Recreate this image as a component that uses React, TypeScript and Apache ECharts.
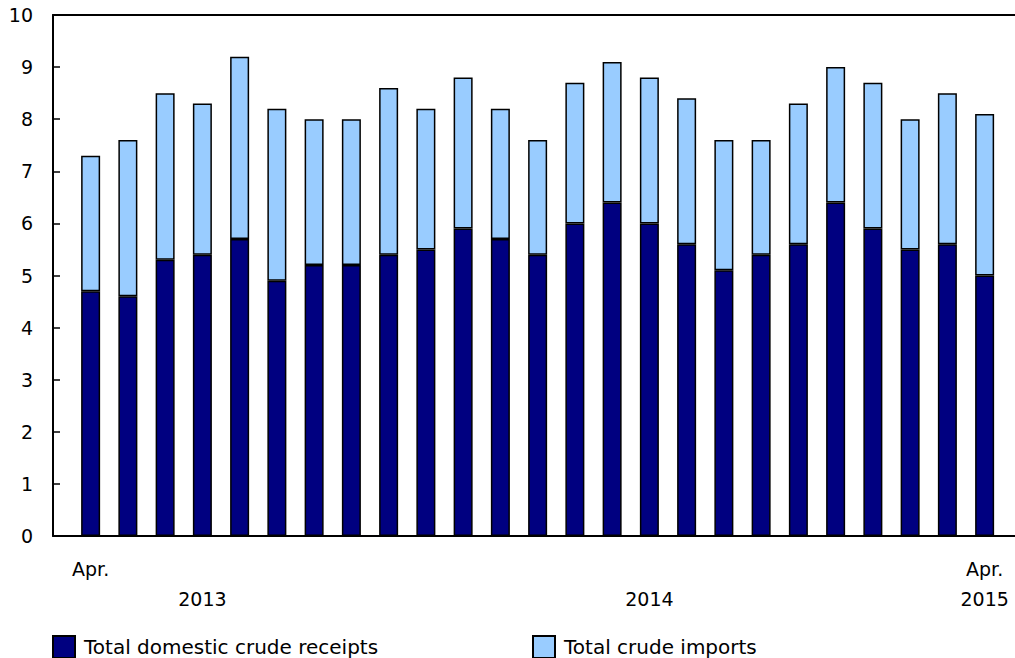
import React, { useEffect, useRef } from "react";
import * as echarts from "echarts";

const categories = [
  "Apr. 2013", "May 2013", "Jun. 2013", "Jul. 2013", "Aug. 2013", "Sep. 2013",
  "Oct. 2013", "Nov. 2013", "Dec. 2013", "Jan. 2014", "Feb. 2014", "Mar. 2014",
  "Apr. 2014", "May 2014", "Jun. 2014", "Jul. 2014", "Aug. 2014", "Sep. 2014",
  "Oct. 2014", "Nov. 2014", "Dec. 2014", "Jan. 2015", "Feb. 2015", "Mar. 2015",
  "Apr. 2015",
];

const domesticReceipts = [
  4.7, 4.6, 5.3, 5.4, 5.7, 4.9, 5.2, 5.2, 5.4, 5.5, 5.9, 5.7,
  5.4, 6.0, 6.4, 6.0, 5.6, 5.1, 5.4, 5.6, 6.4, 5.9, 5.5, 5.6, 5.0,
];

const crudeImports = [
  2.6, 3.0, 3.2, 2.9, 3.5, 3.3, 2.8, 2.8, 3.2, 2.7, 2.9, 2.5,
  2.2, 2.7, 2.7, 2.8, 2.8, 2.5, 2.2, 2.7, 2.6, 2.8, 2.5, 2.9, 3.1,
];

const monthTickLabels = [
  "Apr.", "", "", "", "", "", "", "", "", "", "", "",
  "", "", "", "", "", "", "", "", "", "", "", "", "Apr.",
];

const yearTickLabels = [
  "", "", "", "2013", "", "", "", "", "", "", "", "",
  "", "", "", "2014", "", "", "", "", "", "", "", "", "2015",
];

const seriesNames = ["Total domestic crude receipts", "Total crude imports"];

const FONT = "DejaVu Sans";
const FS = 19;

export default function App() {
  const ref = useRef<HTMLDivElement>(null);

  useEffect(() => {
    if (!ref.current) return;
    const chart = echarts.init(ref.current, null, { renderer: "svg" });
    const top = 15;
    const bottom = 122;
    const legendText = {
      fontFamily: FONT,
      fontSize: 20,
      color: "#000",
      padding: [0, 0, 0, 4],
    };
    chart.setOption({
      animation: false,
      backgroundColor: "#ffffff",
      textStyle: { fontFamily: FONT, color: "#000" },
      grid: [
        { left: 72, right: 11.75, top, bottom, containLabel: false },
        { left: 53, right: -2, top, bottom, containLabel: false },
      ],
      legend: [
        {
          data: [seriesNames[0]],
          left: 52,
          top: 635,
          padding: 0,
          itemWidth: 22,
          itemHeight: 22,
          icon: "rect",
          textStyle: legendText,
        },
        {
          data: [seriesNames[1]],
          left: 532,
          top: 635,
          padding: 0,
          itemWidth: 22,
          itemHeight: 22,
          icon: "rect",
          textStyle: legendText,
        },
      ],
      xAxis: [
        {
          type: "category",
          gridIndex: 0,
          data: categories,
          axisLine: { show: false },
          axisTick: { show: false },
          axisLabel: {
            interval: 0,
            margin: 18,
            fontFamily: FONT,
            fontSize: FS,
            color: "#000",
            lineHeight: 30,
            verticalAlign: "top",
            formatter: (_v: string, i: number) => {
              const m = monthTickLabels[i];
              const y = yearTickLabels[i];
              if (!m && !y) return "";
              return (m || "") + "\n" + (y || "");
            },
          },
        },
        {
          type: "value",
          gridIndex: 1,
          min: 0,
          max: 1,
          position: "bottom",
          axisLine: { show: true, onZero: false, lineStyle: { color: "#000", width: 2 } },
          axisTick: { show: false },
          axisLabel: { show: false },
          splitLine: { show: false },
        },
        {
          type: "value",
          gridIndex: 1,
          min: 0,
          max: 1,
          position: "top",
          axisLine: { show: true, onZero: false, lineStyle: { color: "#000", width: 2 } },
          axisTick: { show: false },
          axisLabel: { show: false },
          splitLine: { show: false },
        },
      ],
      yAxis: [
        {
          type: "value",
          gridIndex: 0,
          min: 0,
          max: 10,
          interval: 1,
          show: false,
        },
        {
          type: "value",
          gridIndex: 1,
          min: 0,
          max: 10,
          interval: 1,
          axisLine: { show: true, lineStyle: { color: "#000", width: 2 } },
          axisTick: { show: true, inside: true, length: 7, lineStyle: { color: "#000", width: 1.5 } },
          axisLabel: {
            margin: 20,
            fontFamily: FONT,
            fontSize: FS,
            color: "#000",
            padding: [7, 0, 0, 0],
          },
          splitLine: { show: false },
        },
      ],
      series: [
        {
          name: seriesNames[0],
          type: "bar",
          stack: "total",
          xAxisIndex: 0,
          yAxisIndex: 0,
          barWidth: 19,
          data: domesticReceipts,
          itemStyle: { color: "#000080", borderColor: "#000", borderWidth: 1.5 },
        },
        {
          name: seriesNames[1],
          type: "bar",
          stack: "total",
          xAxisIndex: 0,
          yAxisIndex: 0,
          barWidth: 19,
          data: crudeImports,
          itemStyle: { color: "#99CCFF", borderColor: "#000", borderWidth: 1.5 },
        },
      ],
    });
    return () => chart.dispose();
  }, []);

  return (
    <div
      ref={ref}
      style={{ position: "fixed", left: 0, top: 0, width: 1015, height: 658 }}
    />
  );
}
